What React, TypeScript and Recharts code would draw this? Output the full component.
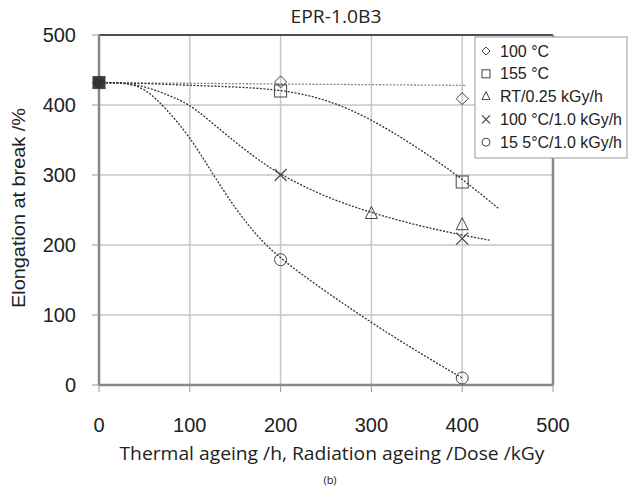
import React from "react";
import {
    ComposedChart,
    Line,
    Scatter,
    XAxis,
    YAxis,
    CartesianGrid,
    ReferenceLine,
} from "recharts";

// axis ticks
const xTicks = [0, 100, 200, 300, 400, 500];
const yTicks = [0, 100, 200, 300, 400, 500];

// measured points (x = ageing time / dose, y = elongation %)
const thermal100 = [{ x: 0, y: 432 }, { x: 200, y: 433 }, { x: 400, y: 409 }];
const thermal155 = [{ x: 0, y: 432 }, { x: 200, y: 420 }, { x: 400, y: 290 }];
const radRT = [{ x: 0, y: 432 }, { x: 300, y: 245 }, { x: 400, y: 229 }];
const rad100 = [{ x: 0, y: 432 }, { x: 200, y: 300 }, { x: 400, y: 209 }];
const rad155 = [{ x: 0, y: 432 }, { x: 200, y: 179 }, { x: 400, y: 10 }];

// dotted trend curves
const fitThermal100 = [{ x: 0, y: 432 }, { x: 200, y: 430 }, { x: 405, y: 428 }];
const fitThermal155 = [
    { x: 0, y: 432 }, { x: 50, y: 431 }, { x: 100, y: 428 }, { x: 150, y: 426 },
    { x: 200, y: 422 }, { x: 250, y: 409 }, { x: 300, y: 380 }, { x: 350, y: 340 },
    { x: 400, y: 295 }, { x: 440, y: 252 },
];
const fitRad = [
    { x: 0, y: 432 }, { x: 25, y: 432 }, { x: 50, y: 427 }, { x: 75, y: 415 },
    { x: 100, y: 401 }, { x: 125, y: 374 }, { x: 150, y: 347 }, { x: 175, y: 322 },
    { x: 200, y: 300 }, { x: 250, y: 268 }, { x: 300, y: 246 }, { x: 350, y: 228 },
    { x: 400, y: 214 }, { x: 430, y: 207 },
];
const fitRad155 = [
    { x: 0, y: 432 }, { x: 25, y: 432 }, { x: 50, y: 426 }, { x: 75, y: 393 },
    { x: 100, y: 355 }, { x: 125, y: 302 }, { x: 150, y: 252 }, { x: 175, y: 211 },
    { x: 200, y: 180 }, { x: 250, y: 133 }, { x: 300, y: 89 }, { x: 350, y: 48 },
    { x: 400, y: 10 },
];

const legendItems = [
    { label: "100 °C", kind: "diamond" },
    { label: "155 °C", kind: "square" },
    { label: "RT/0.25 kGy/h", kind: "triangle" },
    { label: "100 °C/1.0 kGy/h", kind: "cross" },
    { label: "15 5°C/1.0 kGy/h", kind: "circle" },
];

const markColor = "#444";

const drawMark = (kind: string, cx: number, cy: number, s: number, fill: string) => {
    switch (kind) {
        case "diamond":
            return <polygon points={`${cx},${cy - s} ${cx + s},${cy} ${cx},${cy + s} ${cx - s},${cy}`} fill={fill} stroke={markColor} strokeWidth={1} />;
        case "square":
            return <rect x={cx - s} y={cy - s} width={2 * s} height={2 * s} fill={fill} stroke={markColor} strokeWidth={1} />;
        case "triangle":
            return <polygon points={`${cx},${cy - s - 1} ${cx + s},${cy + s - 1} ${cx - s},${cy + s - 1}`} fill={fill} stroke={markColor} strokeWidth={1} />;
        case "cross":
            return (
                <g stroke={markColor} strokeWidth={1.2}>
                    <line x1={cx - s} y1={cy - s} x2={cx + s} y2={cy + s} />
                    <line x1={cx - s} y1={cy + s} x2={cx + s} y2={cy - s} />
                </g>
            );
        default:
            return <circle cx={cx} cy={cy} r={s} fill={fill} stroke={markColor} strokeWidth={1} />;
    }
};

const markShape = (kind: string) => (props: any) => {
    const { cx, cy, payload } = props;
    const fill = payload && payload.x === 0 ? "#333" : "none";
    return drawMark(kind, cx, cy, 6, fill);
};

const tickStyle = { fill: "#222", fontSize: 20, fontFamily: "Liberation Sans, Arial, sans-serif" };
const fitStroke = { stroke: "#333", strokeWidth: 1.3, strokeDasharray: "2 1.5" };

const App = () => {
    return (
        <div style={{ position: "absolute", left: 0, top: 0, width: 634, height: 488, background: "#fff" }}>
            <ComposedChart
                width={634}
                height={488}
                margin={{ top: 35, right: 81, bottom: 0, left: 0 }}
            >
                <CartesianGrid stroke="#c6c6c6" strokeWidth={1.5} />
                <XAxis
                    type="number"
                    dataKey="x"
                    domain={[0, 500]}
                    ticks={xTicks}
                    height={103}
                    tickSize={7}
                    tickMargin={26}
                    tick={tickStyle}
                    axisLine={{ stroke: "#888", strokeWidth: 2.5 }}
                    tickLine={{ stroke: "#999" }}
                />
                <YAxis
                    type="number"
                    dataKey="y"
                    domain={[0, 500]}
                    ticks={yTicks}
                    width={99}
                    tickSize={7}
                    tickMargin={16}
                    tick={tickStyle}
                    axisLine={{ stroke: "#888", strokeWidth: 2.5 }}
                    tickLine={{ stroke: "#999" }}
                />
                <ReferenceLine y={500} stroke="#222" strokeWidth={1.5} />
                <ReferenceLine x={500} stroke="#888" strokeWidth={2.5} />

                <Line data={fitThermal100} dataKey="y" type="linear" dot={false} isAnimationActive={false} stroke="#888" strokeWidth={1.3} strokeDasharray="2 1.5" />
                <Line data={fitThermal155} dataKey="y" type="basis" dot={false} isAnimationActive={false} {...fitStroke} />
                <Line data={fitRad} dataKey="y" type="basis" dot={false} isAnimationActive={false} {...fitStroke} />
                <Line data={fitRad155} dataKey="y" type="basis" dot={false} isAnimationActive={false} {...fitStroke} />

                <Scatter data={thermal100} isAnimationActive={false} shape={markShape("diamond")} />
                <Scatter data={thermal155} isAnimationActive={false} shape={markShape("square")} />
                <Scatter data={radRT} isAnimationActive={false} shape={markShape("triangle")} />
                <Scatter data={rad100} isAnimationActive={false} shape={markShape("cross")} />
                <Scatter data={rad155} isAnimationActive={false} shape={markShape("circle")} />
            </ComposedChart>

            {/* titles and legend */}
            <svg width={634} height={488} style={{ position: "absolute", left: 0, top: 0, pointerEvents: "none" }}>
                <text
                    x={336}
                    y={23}
                    textAnchor="middle"
                    fontSize={18}
                    fontFamily="Open Sans, sans-serif"
                    fill="#222"
                    textLength={91}
                    lengthAdjust="spacingAndGlyphs"
                >
                    EPR-1.0B3
                </text>
                <text
                    x={0}
                    y={0}
                    transform="translate(25 208) rotate(-90)"
                    textAnchor="middle"
                    fontSize={18}
                    fontFamily="Liberation Sans, Arial, sans-serif"
                    fill="#222"
                    textLength={200}
                    lengthAdjust="spacingAndGlyphs"
                >
                    Elongation at break /%
                </text>
                <text
                    x={332}
                    y={460}
                    textAnchor="middle"
                    fontSize={18}
                    fontFamily="Open Sans, sans-serif"
                    fill="#222"
                    textLength={425}
                    lengthAdjust="spacingAndGlyphs"
                >
                    Thermal ageing /h, Radiation ageing /Dose /kGy
                </text>
                <text x={330} y={484} textAnchor="middle" fontSize={11} fontFamily="Open Sans, sans-serif" fill="#222">
                    (b)
                </text>

                <rect x={475} y={37} width={152} height={121} fill="#fff" stroke="#999" strokeWidth={1} />
                {legendItems.map((item, i) => {
                    const cy = 51 + i * 22.8;
                    return (
                        <g key={item.label}>
                            {drawMark(item.kind, 486, cy, 4, "none")}
                            <text x={500} y={cy + 5.5} fontSize={16} fontFamily="Liberation Sans, Arial, sans-serif" fill="#222">
                                {item.label}
                            </text>
                        </g>
                    );
                })}
            </svg>
        </div>
    );
};

export default App;
